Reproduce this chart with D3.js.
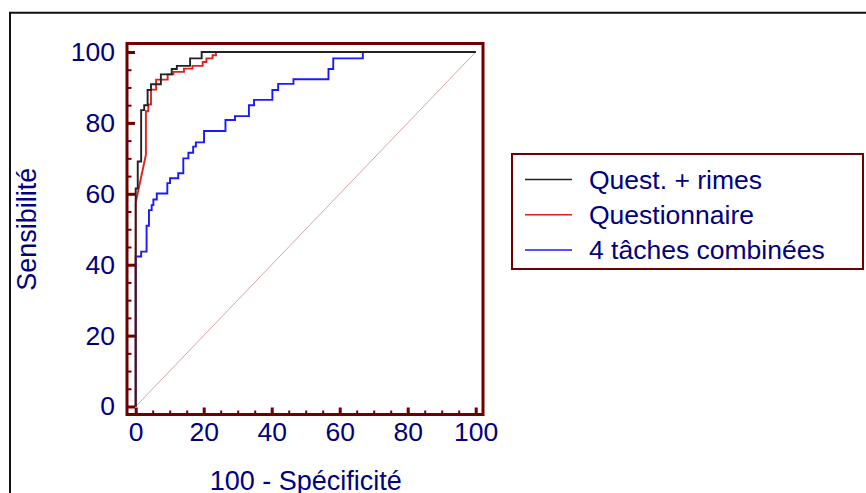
<!DOCTYPE html>
<html>
<head>
<meta charset="utf-8">
<script src="https://cdn.jsdelivr.net/npm/d3@7"></script>
<style>
    body { margin: 0; background: #fff; }
    text { font-family: 'Liberation Sans', Arial, sans-serif; fill: #000080; }
</style>
</head>
<body>
<script>
const xTicks = [0, 20, 40, 60, 80, 100];
const yTicks = [0, 20, 40, 60, 80, 100];
const seriesNames = ['Quest. + rimes', 'Questionnaire', '4 tâches combinées'];
const seriesColors = ['#222222', '#e4201c', '#1a1aff'];

// ROC vertices: 100 - specificity, sensitivity
const questRimesX = [0, 0, 0.6, 0.6, 1.6, 1.6, 2.5, 2.5, 3.5, 3.5, 4.5, 4.5, 7.4, 7.4, 10.6, 10.6, 12.1, 12.1, 16.0, 16.0, 19.4, 19.4, 100];
const questRimesY = [0, 61.5, 61.5, 69.1, 69.1, 83.6, 83.6, 85.0, 85.0, 89.3, 89.3, 90.9, 90.9, 93.7, 93.7, 95.2, 95.2, 96.1, 96.1, 98.2, 98.2, 100, 100];

const questX = [0, 0, 3.0, 3.0, 3.7, 3.7, 4.5, 4.5, 6.0, 6.0, 9.4, 9.4, 11.1, 11.1, 14.2, 14.2, 16.7, 16.7, 19.7, 19.7, 20.8, 20.8, 22.6, 22.6, 23.6, 23.6, 100];
const questY = [0, 57.5, 71.0, 83.3, 83.3, 85.2, 85.2, 89.4, 89.4, 92.2, 92.2, 93.7, 93.7, 94.4, 94.4, 95.3, 95.3, 96.1, 96.1, 97.2, 97.2, 98.2, 98.2, 99.1, 99.1, 100, 100];

const tachesX = [0, 0, 1.6, 1.6, 3.2, 3.2, 3.9, 3.9, 4.7, 4.7, 5.2, 5.2, 6.2, 6.2, 9.3, 9.3, 10.1, 10.1, 12.5, 12.5, 14.0, 14.0, 15.5, 15.5, 16.9, 16.9, 17.7, 17.7, 20.1, 20.1, 26.4, 26.4, 29.2, 29.2, 33.3, 33.3, 34.8, 34.8, 40.2, 40.2, 41.9, 41.9, 46.4, 46.4, 56.7, 56.7, 58.1, 58.1, 66.8, 66.8, 100];
const tachesY = [0, 42.3, 42.3, 43.7, 43.7, 51.0, 51.0, 55.4, 55.4, 56.8, 56.8, 58.4, 58.4, 60.1, 60.1, 63.0, 63.0, 64.4, 64.4, 65.8, 65.8, 70.0, 70.0, 71.6, 71.6, 73.3, 73.3, 74.5, 74.5, 77.7, 77.7, 80.8, 80.8, 81.9, 81.9, 85.0, 85.0, 86.5, 86.5, 89.3, 89.3, 91.0, 91.0, 92.3, 92.3, 95.2, 95.2, 98.2, 98.2, 100, 100];

const width = 866;
const height = 493;
const axisColor = '#6e0000';

const svg = d3.select('body')
    .append('svg')
    .attr('width', width)
    .attr('height', height);

// outer frame
svg.append('path')
    .attr('d', `M10,${height + 5}V12.7H${width + 5}`)
    .attr('fill', 'none')
    .attr('stroke', '#111')
    .attr('stroke-width', 2);

const x = d3.scaleLinear([0, 100], [135.7, 475.7]);
const y = d3.scaleLinear([0, 100], [406.5, 52]);

const frame = { left: 127, right: 483, top: 43.5, bottom: 414.5 };

// diagonal reference
svg.append('line')
    .attr('x1', x(0)).attr('y1', y(0))
    .attr('x2', x(100)).attr('y2', y(100))
    .attr('stroke', '#dba3a3')
    .attr('stroke-width', 1);

const line = d3.line()
    .x(d => x(d[0]))
    .y(d => y(d[1]));

const series = [
    d3.zip(tachesX, tachesY),
    d3.zip(questX, questY),
    d3.zip(questRimesX, questRimesY)
];
const order = [2, 1, 0];

svg.selectAll('path.roc')
    .data(series)
    .join('path')
    .attr('class', 'roc')
    .attr('d', line)
    .attr('fill', 'none')
    .attr('stroke', (d, i) => seriesColors[order[i]])
    .attr('stroke-width', 1.9);

// plot frame
svg.append('rect')
    .attr('x', frame.left)
    .attr('y', frame.top)
    .attr('width', frame.right - frame.left)
    .attr('height', frame.bottom - frame.top)
    .attr('fill', 'none')
    .attr('stroke', axisColor)
    .attr('stroke-width', 3);

function styleAxis(g, w) {
    g.select('.domain').remove();
    g.selectAll('.tick line').attr('stroke', axisColor).attr('stroke-width', w);
}

function styleLabels(g) {
    g.selectAll('text')
        .attr('fill', '#000080')
        .style('font-size', '26.5px')
        .style('font-family', 'Liberation Sans, Arial, sans-serif');
}

// minor ticks
svg.append('g')
    .attr('transform', `translate(0,${frame.bottom})`)
    .call(d3.axisBottom(x).ticks(20).tickSize(-4).tickFormat(''))
    .call(g => styleAxis(g, 2));
svg.append('g')
    .attr('transform', `translate(${frame.left},0)`)
    .call(d3.axisLeft(y).ticks(20).tickSize(-4.5).tickFormat(''))
    .call(g => styleAxis(g, 2));

// major ticks + labels
svg.append('g')
    .attr('transform', `translate(0,${frame.bottom})`)
    .call(d3.axisBottom(x).tickValues(xTicks).tickSize(-7).tickPadding(8))
    .call(g => styleAxis(g, 3))
    .call(styleLabels);

svg.append('g')
    .attr('transform', `translate(${frame.left},0)`)
    .call(d3.axisLeft(y).tickValues(yTicks).tickSize(-8).tickPadding(12))
    .call(g => styleAxis(g, 3))
    .call(styleLabels);

// axis titles
svg.append('text')
    .attr('x', (x(0) + x(100)) / 2)
    .attr('y', 490)
    .attr('text-anchor', 'middle')
    .style('font-size', '27px')
    .text('100 - Spécificité');

svg.append('text')
    .attr('transform', `translate(36,${(y(0) + y(100)) / 2}) rotate(-90)`)
    .attr('text-anchor', 'middle')
    .style('font-size', '27px')
    .text('Sensibilité');

// legend
const legend = svg.append('g')
    .attr('transform', 'translate(512,154)');

legend.append('rect')
    .attr('width', 351)
    .attr('height', 115)
    .attr('fill', '#fff')
    .attr('stroke', axisColor)
    .attr('stroke-width', 2);

const items = legend.selectAll('g')
    .data(seriesNames)
    .join('g')
    .attr('transform', (d, i) => `translate(0,${25.5 + i * 35.3})`);

items.append('line')
    .attr('x1', 13)
    .attr('x2', 60)
    .attr('stroke', (d, i) => seriesColors[i])
    .attr('stroke-width', 1.5);

items.append('text')
    .attr('x', 77)
    .attr('dy', '0.35em')
    .style('font-size', '26.5px')
    .text(d => d);
</script>
</body>
</html>
